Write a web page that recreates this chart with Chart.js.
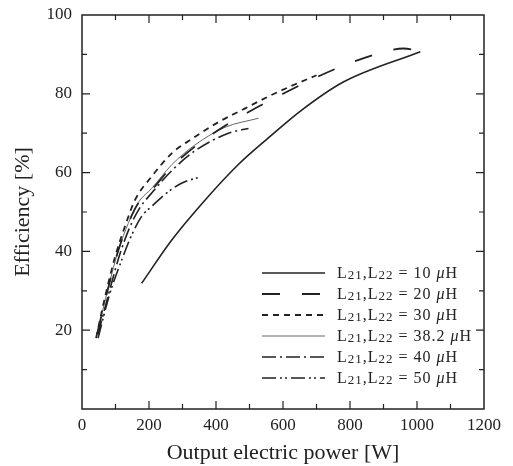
<!DOCTYPE html>
<html>
<head>
<meta charset="utf-8">
<script src="https://cdn.jsdelivr.net/npm/chart.js@4.4.1/dist/chart.umd.min.js"></script>
<style>
  html, body { margin: 0; padding: 0; background: #fff; }
</style>
</head>
<body>
<canvas id="chart" width="513" height="466"></canvas>
<script>
// values (x: output power W, y: efficiency %)
const p10  = [178, 268, 367, 466, 566, 650, 780, 1010];
const e10  = [31.9, 42.9, 53, 62, 69.5, 75.5, 83, 90.7];

const p20  = [45, 79, 109, 138, 168, 208, 268, 337, 427, 500, 600, 700, 800, 900, 960, 1010];
const e20  = [19, 31, 40.4, 47.1, 52.2, 55.6, 61.5, 66.6, 71.9, 75.5, 80, 84.2, 87.8, 90.6, 91.5, 90.7];

const p30  = [42, 69, 99, 128, 158, 208, 268, 327, 407, 487, 556, 620, 700];
const e30  = [18, 28.5, 38.7, 46.3, 53, 59, 64.9, 68.5, 72.8, 76.3, 79.3, 81.8, 84.7];

const p382 = [45, 79, 109, 138, 168, 208, 268, 337, 427, 527];
const e382 = [19, 31, 40.4, 47.1, 52.4, 56, 62, 67, 71.5, 73.8];

const p40  = [48, 82, 112, 142, 172, 210, 268, 337, 437, 497];
const e40  = [19, 30, 39, 46, 51, 55, 60.5, 65.5, 70, 71.2];

const p50  = [48, 82, 115, 145, 178, 208, 248, 297, 357];
const e50  = [18, 29, 37, 43.5, 48.9, 51.4, 54.5, 57.3, 59];

const inductances = ['10', '20', '30', '38.2', '40', '50'];
const xTicks = [0, 200, 400, 600, 800, 1000, 1200];
const yTicks = [20, 40, 60, 80, 100];

const INK   = '#222';
const SERIF = "'Liberation Serif', 'DejaVu Serif', serif";

const STYLES = [
    { dash: [],                     width: 1.6, color: INK },
    { dash: [18, 22],               width: 1.8, color: INK },
    { dash: [6, 5],                 width: 1.8, color: INK },
    { dash: [],                     width: 1.0, color: '#666' },
    { dash: [14, 4, 2, 4],          width: 1.6, color: INK },
    { dash: [14, 4, 2, 3, 2, 4],    width: 1.6, color: INK },
];

const zip = (xs, ys) => xs.map((x, i) => ({ x, y: ys[i] }));
const series = [zip(p10, e10), zip(p20, e20), zip(p30, e30), zip(p382, e382), zip(p40, e40), zip(p50, e50)];

const datasets = series.map((pts, i) => ({
    label: inductances[i],
    data: pts,
    borderColor: STYLES[i].color,
    borderWidth: STYLES[i].width,
    borderDash: STYLES[i].dash,
    pointRadius: 0,
    fill: false,
    cubicInterpolationMode: 'monotone',
}));

// inward ticks on all four sides plus the closed frame
const frameTicks = {
    id: 'frameTicks',
    afterDraw(chart) {
        const { ctx, chartArea: a, scales: { x, y } } = chart;
        ctx.save();
        ctx.strokeStyle = INK;
        ctx.lineWidth = 1.5;
        ctx.setLineDash([]);
        ctx.strokeRect(a.left, a.top, a.right - a.left, a.bottom - a.top);
        ctx.lineWidth = 1.2;
        for (let v = 100; v < 1200; v += 100) {
            const px = x.getPixelForValue(v);
            const len = v % 200 === 0 ? 8 : 5;
            ctx.beginPath();
            ctx.moveTo(px, a.bottom); ctx.lineTo(px, a.bottom - len);
            ctx.moveTo(px, a.top);    ctx.lineTo(px, a.top + len);
            ctx.stroke();
        }
        for (let v = 10; v < 100; v += 10) {
            const py = y.getPixelForValue(v);
            const len = v % 20 === 0 ? 8 : 5;
            ctx.beginPath();
            ctx.moveTo(a.left, py);  ctx.lineTo(a.left + len, py);
            ctx.moveTo(a.right, py); ctx.lineTo(a.right - len, py);
            ctx.stroke();
        }
        ctx.restore();
    }
};

// legend drawn inside the plot, lower right
const innerLegend = {
    id: 'innerLegend',
    afterDraw(chart) {
        const { ctx, chartArea: a } = chart;
        const x0 = a.left + 180, x1 = a.left + 243, tx = a.left + 255;
        ctx.save();
        ctx.letterSpacing = '1px';
        chart.data.datasets.forEach((ds, i) => {
            const yy = a.top + 258 + i * 21;
            ctx.strokeStyle = ds.borderColor;
            ctx.lineWidth = ds.borderWidth;
            ctx.setLineDash(ds.borderDash);
            ctx.beginPath();
            ctx.moveTo(x0, yy); ctx.lineTo(x1, yy);
            ctx.stroke();

            ctx.fillStyle = INK;
            ctx.textBaseline = 'alphabetic';
            let cx = tx;
            const base = yy + 5;
            const put = (txt, font, dy) => {
                ctx.font = font;
                ctx.fillText(txt, cx, base + dy);
                cx += ctx.measureText(txt).width;
            };
            const main = '16px ' + SERIF, sub = '13px ' + SERIF;
            put('L', main, 0); put('21', sub, 1);
            put(',L', main, 0); put('22', sub, 1);
            put(' = ' + ds.label + ' ', main, 0);
            put('\u03bc', 'italic 16px ' + SERIF, 0);
            put('H', main, 0);
        });
        ctx.restore();
    }
};

new Chart(document.getElementById('chart'), {
    type: 'line',
    data: { datasets },
    plugins: [frameTicks, innerLegend],
    options: {
        responsive: false,
        animation: false,
        layout: { padding: { top: 15, right: 29, left: 0, bottom: 0 } },
        plugins: { legend: { display: false }, tooltip: { enabled: false } },
        scales: {
            x: {
                type: 'linear',
                min: 0, max: 1200,
                afterBuildTicks: s => { s.ticks = xTicks.map(v => ({ value: v })); },
                afterFit: s => { s.height = 57; s.paddingLeft = 0; s.paddingRight = 0; },
                grid: { display: false, drawTicks: false },
                border: { display: false },
                ticks: {
                    padding: 6, maxRotation: 0, autoSkip: false,
                    color: INK, font: { family: SERIF, size: 17 },
                    callback: v => String(v),
                },
                title: {
                    display: true, text: 'Output electric power [W]',
                    color: INK, font: { family: SERIF, size: 22 }, padding: { top: 0, bottom: 0 },
                },
            },
            y: {
                type: 'linear',
                min: 0, max: 100,
                afterBuildTicks: s => { s.ticks = yTicks.map(v => ({ value: v })); },
                afterFit: s => { s.width = 82; s.paddingTop = 0; s.paddingBottom = 0; },
                grid: { display: false, drawTicks: false },
                border: { display: false },
                ticks: {
                    padding: 10, autoSkip: false,
                    color: INK, font: { family: SERIF, size: 17 },
                    callback: v => String(v),
                },
                title: {
                    display: true, text: 'Efficiency [%]',
                    color: INK, font: { family: SERIF, size: 22 }, padding: { top: 10, bottom: 0 },
                },
            },
        },
    },
});
</script>
</body>
</html>
